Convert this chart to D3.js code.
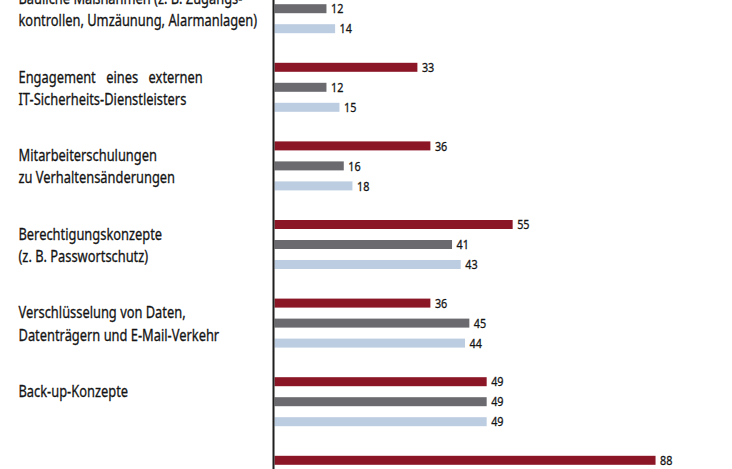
<!DOCTYPE html>
<html>
<head>
<meta charset="utf-8">
<script src="https://cdn.jsdelivr.net/npm/d3@7"></script>
<style>
  html, body { margin: 0; padding: 0; background: #fff; }
  svg { display: block; }
  text { font-family: "Noto Sans", "Open Sans", sans-serif; fill: #141414; stroke: #141414; stroke-width: 0.3px; }
</style>
</head>
<body>
<div id="chart"></div>
<script>
// categories (each label split into its printed lines)
const kategorien = [
  ["Bauliche Maßnahmen (z. B. Zugangs-", "kontrollen, Umzäunung, Alarmanlagen)"],
  ["Engagement eines externen", "IT-Sicherheits-Dienstleisters"],
  ["Mitarbeiterschulungen", "zu Verhaltensänderungen"],
  ["Berechtigungskonzepte", "(z. B. Passwortschutz)"],
  ["Verschlüsselung von Daten,", "Datenträgern und E-Mail-Verkehr"],
  ["Back-up-Konzepte"],
  [""]
];

// series values in percent (null = outside the visible crop)
const reihe1 = [null, 33, 36, 55, 36, 49, 88];
const reihe2 = [12, 12, 16, 41, 45, 49, null];
const reihe3 = [14, 15, 18, 43, 44, 49, null];

const reihen = ["reihe1", "reihe2", "reihe3"];
const werte = { reihe1, reihe2, reihe3 };

//set variables
const w = 732;
const h = 469;
const sx = 0.79;   // horizontal squeeze to get a condensed look
const farben = { reihe1: "#8b1626", reihe2: "#6b6a6f", reihe3: "#bccde2" };

const svg = d3.select('#chart')
  .append('svg')
  .attr('width', w)
  .attr('height', h);

//scales
const xScale = d3.scaleLinear().domain([0, 100]).range([274.5, 707.5]);
const step = 78.6;
const y0 = -15.8;
const yScale = d3.scaleBand()
  .domain(d3.range(kategorien.length))
  .range([y0, y0 + step * kategorien.length])
  .paddingInner(0).paddingOuter(0);
const yInner = d3.scaleBand()
  .domain(reihen)
  .range([0, 49])
  .paddingInner(0.55).paddingOuter(0);

//bars
const rows = [];
kategorien.forEach((k, i) => {
  reihen.forEach(r => {
    if (werte[r][i] != null) rows.push({ i, r, v: werte[r][i] });
  });
});

const gBars = svg.append('g');
gBars.selectAll('rect')
  .data(rows)
  .enter()
  .append('rect')
  .attr('x', xScale(0))
  .attr('y', d => yScale(d.i) + yInner(d.r))
  .attr('width', d => xScale(d.v) - xScale(0))
  .attr('height', yInner.bandwidth())
  .style('fill', d => farben[d.r]);

//value labels
gBars.selectAll('text')
  .data(rows)
  .enter()
  .append('text')
  .attr('transform', d => `translate(${xScale(d.v) + 4.5},${yScale(d.i) + yInner(d.r) + yInner.bandwidth() / 2 + 4.7}) scale(0.82,1)`)
  .style('font-size', '13.2px')
  .text(d => d.v);

//category labels
const gLab = svg.append('g');
kategorien.forEach((lines, i) => {
  const t = gLab.append('text')
    .attr('transform', `translate(18.5,${yScale(i) + 19.8}) scale(${sx},1)`)
    .style('font-size', '16.3px');
  lines.forEach((line, j) => {
    t.append('tspan')
      .attr('x', 0)
      .attr('dy', j === 0 ? 0 : 22.2)
      .style('word-spacing', i === 1 && j === 0 ? '9px' : null)
      .text(line);
  });
});

//axis line
svg.append('line')
  .attr('x1', 273.5).attr('x2', 273.5)
  .attr('y1', 0).attr('y2', h)
  .style('stroke', '#1e1e1e')
  .style('stroke-width', 2);
</script>
</body>
</html>
